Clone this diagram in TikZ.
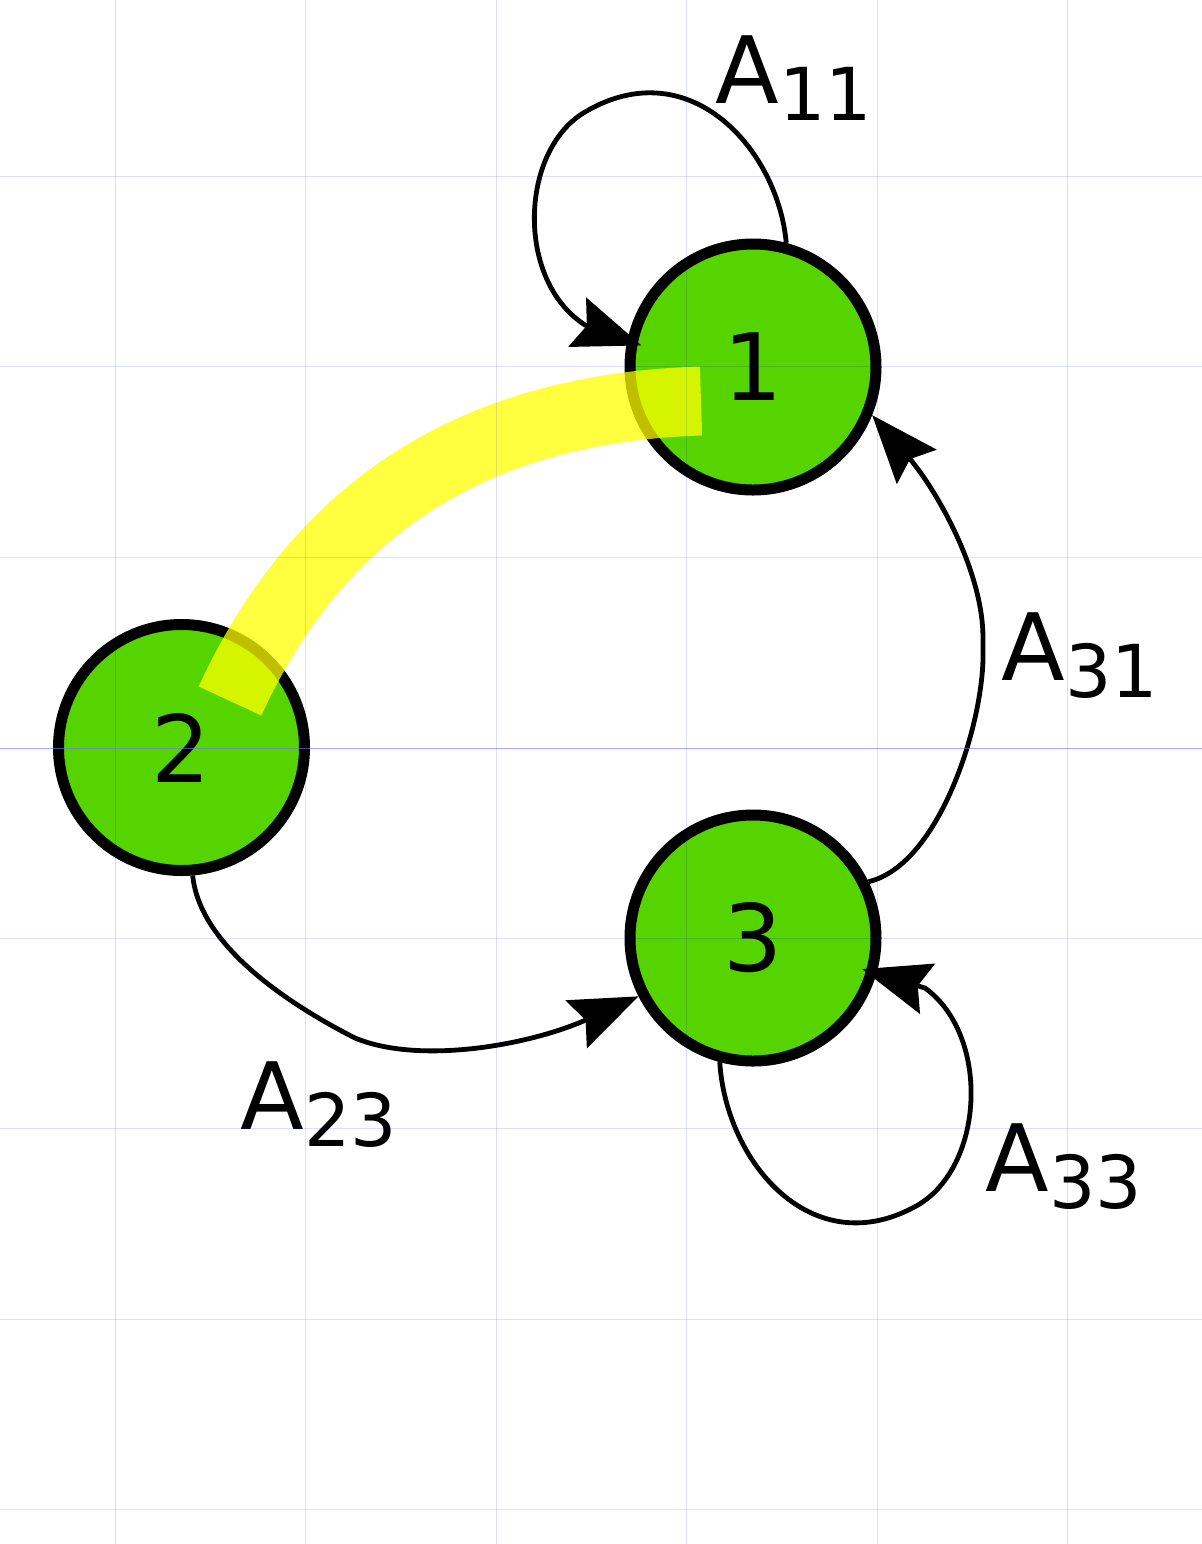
\documentclass[tikz,border=0pt]{standalone}
\usepackage{fontspec}
\setmainfont{DejaVu Sans}
\definecolor{stategreen}{HTML}{55D400}
\definecolor{gridblue}{HTML}{0000FF}
\definecolor{marker}{HTML}{FFFF00}
\usetikzlibrary{arrows.meta,positioning}
\newcommand{\asub}[1]{A\raisebox{-8.5pt}{\fontsize{36.5pt}{36.5pt}\selectfont #1}}

\begin{document}
\begin{tikzpicture}[x=0.5pt, y=-0.5pt,
  statenode/.style={circle, draw=black, fill=stategreen, line width=5.5pt, minimum size=123pt, inner sep=0pt, font=\fontsize{46.5pt}{46.5pt}\selectfont},
  trans/.style={draw=black, line width=2.4pt, -{Stealth[length=34pt,width=26pt,inset=5pt]}},
  tlabel/.style={anchor=base west, inner sep=0pt, font=\fontsize{46.5pt}{46.5pt}\selectfont},
  gridline/.style={draw=gridblue, draw opacity=0.13, line width=0.5pt},
  axisline/.style={draw=gridblue!55!white, draw opacity=0.6, line width=0.5pt}]
\useasboundingbox (0,0) rectangle (1202,1544);
\node[statenode] (n1) at (753,367) {1};
\node[statenode] (n2) at (181.5,747.5) {2};
\node[statenode] (n3) at (753,938) {3};

\draw[trans, shorten >=-7.5pt] (n1.75) .. controls (778,150) and (690,50) .. (585,112) .. controls (520,150) and (515,280) .. (585,325) -- (n1.168);
\draw[trans, shorten >=-7.5pt] (n3.255) .. controls (726,1163) and (813,1265) .. (918,1205) .. controls (985,1165) and (990,1035) .. (925,988) -- (n3.-16);
\draw[trans] (n3.26) .. controls (940,865) and (985,720) .. (983,650) -- (983,638) .. controls (983,570) and (935,488) .. (n1.-22);
\draw[trans] (n2.-85) .. controls (200,950) and (300,1010) .. (355,1038) .. controls (420,1065) and (530,1045) .. (n3.207);

\node[tlabel] (l11) at (715.5,103) {\asub{11}};
\node[tlabel] (l31) at (1001.5,680) {\asub{31}};
\node[tlabel] (l23) at (240.5,1129) {\asub{23}};
\node[tlabel] (l33) at (985.5,1191) {\asub{33}};

\draw[marker, draw opacity=0.75, line width=34.5pt] (230,701) .. controls (309.4,528.5) and (451,408.5) .. (701,401);

\foreach \x in {115.2,305.7,496.2,686.7,877.2,1067.7}
  \draw[gridline] (\x,0) -- (\x,1544);
\foreach \y in {176,366.5,557,938,1128.5,1319,1509.5}
  \draw[gridline] (0,\y) -- (1202,\y);
\draw[axisline] (0,748) -- (1202,748);
\end{tikzpicture}
\end{document}
